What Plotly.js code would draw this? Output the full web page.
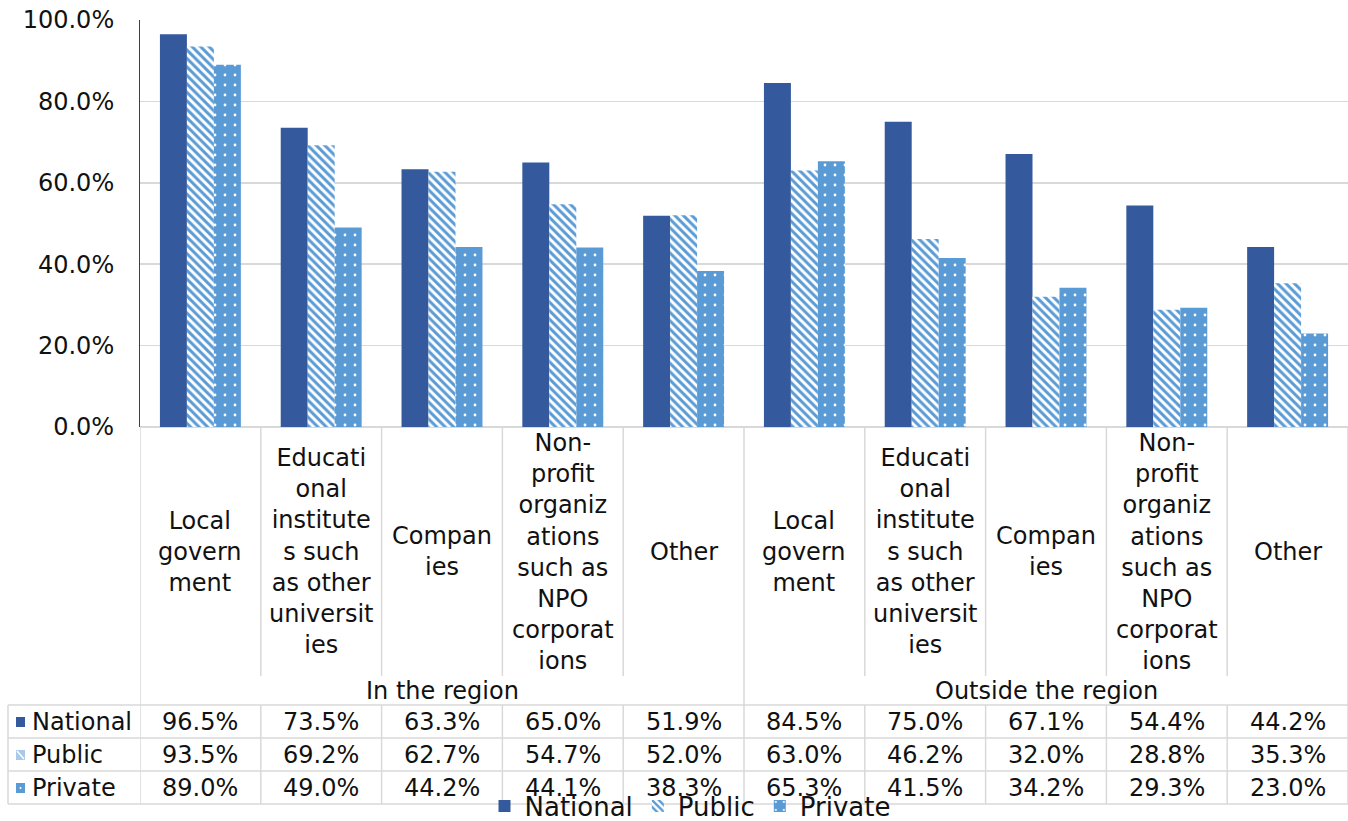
<!DOCTYPE html>
<html>
<head>
<meta charset="utf-8">
<script src="https://cdn.plot.ly/plotly-3.0.1.min.js"></script>
<style>html,body{margin:0;padding:0;background:#fff;}#chart{width:1348px;height:821px;}</style>
</head>
<body>
<div id="chart"></div>
<script>
// ---- data ----
const categories = [
  "Local<br>govern<br>ment",
  "Educati<br>onal<br>institute<br>s such<br>as other<br>universit<br>ies",
  "Compan<br>ies",
  "Non-<br>profit<br>organiz<br>ations<br>such as<br>NPO<br>corporat<br>ions",
  "Other"
];
const groups = ["In the region", "Outside the region"];
const seriesNames = ["National", "Public", "Private"];
const national = [96.5, 73.5, 63.3, 65.0, 51.9, 84.5, 75.0, 67.1, 54.4, 44.2];
const publicV  = [93.5, 69.2, 62.7, 54.7, 52.0, 63.0, 46.2, 32.0, 28.8, 35.3];
const privateV = [89.0, 49.0, 44.2, 44.1, 38.3, 65.3, 41.5, 34.2, 29.3, 23.0];

// ---- layout helpers ----
const W = 1348, H = 821, ML = 140, MR = 0, MT = 20, PLOT_BOTTOM = 427;
const MB = H - PLOT_BOTTOM;
const plotH = PLOT_BOTTOM - MT, plotW = W - ML - MR;
const py = p => (PLOT_BOTTOM - p) / plotH;   // pixel y -> paper
const px = p => (p - ML) / plotW;            // pixel x -> paper

const FONT = "DejaVu Sans, Arial, sans-serif";
const TXT = "#111";
const GRID = "#D9D9D9";
const C_NAT = "#345A9D", C_LB = "#5B9BD5";

const nCols = groups.length * categories.length;
const xIdx = [];
for (let i = 0; i < nCols; i++) xIdx.push(i);

const traces = [
  {type: "bar", name: seriesNames[0], x: xIdx, y: national.map(v => v / 100),
   marker: {color: C_NAT, line: {width: 0}}},
  {type: "bar", name: seriesNames[1], x: xIdx, y: publicV.map(v => v / 100),
   marker: {color: C_LB, line: {width: 0},
            pattern: {shape: "\\", fgcolor: C_LB, bgcolor: "#ffffff", size: 6, solidity: 0.5, fillmode: "replace"}}},
  {type: "bar", name: seriesNames[2], x: xIdx, y: privateV.map(v => v / 100),
   marker: {color: C_LB, line: {width: 0},
            pattern: {shape: ".", fgcolor: "#ffffff", bgcolor: C_LB, size: 10, solidity: 0.06, fillmode: "replace"}}}
];

// ---- table annotations & shapes ----
const annotations = [];
const shapes = [];
const rowCenters = [722, 755, 788];
const rowLines = [705, 738, 771, 804];
const allSeries = [national, publicV, privateV];

for (let i = 0; i < nCols; i++) {
  annotations.push({text: categories[i % categories.length], x: i, xref: "x", y: py(551.5), yref: "paper",
    showarrow: false, xanchor: "center", yanchor: "middle", align: "center",
    font: {family: FONT, size: 24, color: TXT}});
}
groups.forEach((g, gi) => {
  const center = gi * categories.length + (categories.length - 1) / 2;
  annotations.push({text: g, x: center, xref: "x", y: py(691), yref: "paper", showarrow: false,
    xanchor: "center", yanchor: "middle", font: {family: FONT, size: 24, color: TXT}});
});
allSeries.forEach((arr, r) => {
  arr.forEach((v, i) => {
    annotations.push({text: v.toFixed(1) + "%", x: i, xref: "x", y: py(rowCenters[r]), yref: "paper",
      showarrow: false, xanchor: "center", yanchor: "middle", font: {family: FONT, size: 24, color: TXT}});
  });
  annotations.push({text: seriesNames[r], x: px(30), xref: "paper", y: py(rowCenters[r]), yref: "paper",
    showarrow: false, xanchor: "left", yanchor: "middle", font: {family: FONT, size: 24, color: TXT}});
});

// keys in table
const keyFill = [C_NAT, "#A9C9EA", C_LB];
rowCenters.forEach((c, r) => {
  shapes.push({type: "rect", xref: "paper", yref: "paper", x0: px(16), x1: px(25), y0: py(c + 5), y1: py(c - 5),
    fillcolor: keyFill[r], line: {width: 0}});
});
shapes.push({type: "line", xref: "paper", yref: "paper", x0: px(17), x1: px(24), y0: py(755 - 4), y1: py(755 + 4),
  line: {color: "#ffffff", width: 1.5}});
shapes.push({type: "circle", xref: "paper", yref: "paper", x0: px(19.5), x1: px(21.5), y0: py(789), y1: py(787),
  fillcolor: "#ffffff", line: {width: 0}});

// table grid lines
const line = (x0, x1, y0, y1, xref) => shapes.push({type: "line", xref: xref, yref: "paper",
  x0: x0, x1: x1, y0: y0, y1: y1, line: {color: GRID, width: 1.5}, layer: "below"});
rowLines.forEach(p => line(px(8), 1, py(p), py(p), "paper"));
line(px(8), px(8), py(rowLines[0]), py(rowLines[3]), "paper");
for (let i = 0; i <= nCols; i++) {
  const xb = i - 0.5;
  const isGroupEdge = (i % categories.length === 0);
  if (isGroupEdge) {
    line(xb, xb, 0, py(rowLines[3]), "x");
  } else {
    line(xb, xb, 0, py(676), "x");
    line(xb, xb, py(rowLines[0]), py(rowLines[3]), "x");
  }
}

const layout = {
  width: W, height: H,
  margin: {l: ML, r: MR, t: MT, b: MB, autoexpand: false},
  paper_bgcolor: "#ffffff", plot_bgcolor: "#ffffff",
  barmode: "group", bargap: 0.33, bargroupgap: 0,
  font: {family: FONT, size: 24, color: TXT},
  xaxis: {range: [-0.5, nCols - 0.5], showticklabels: false, showgrid: false, zeroline: false,
          showline: false, fixedrange: true, automargin: false},
  yaxis: {range: [0, 1], dtick: 0.2, tickformat: ".1%", showgrid: true, gridcolor: GRID, gridwidth: 1.5,
          zeroline: true, zerolinecolor: GRID, zerolinewidth: 1.5,
          showline: true, linecolor: "#404040", linewidth: 1, ticks: "", ticklabelstandoff: 20,
          tickfont: {family: FONT, size: 24, color: TXT}, fixedrange: true, automargin: false},
  showlegend: true,
  legend: {orientation: "h", x: px(690), xanchor: "center", y: py(806), yanchor: "middle",
           bgcolor: "rgba(0,0,0,0)", font: {family: FONT, size: 26, color: TXT}, traceorder: "normal",
           itemwidth: 30},
  annotations: annotations,
  shapes: shapes
};

Plotly.newPlot("chart", traces, layout, {displayModeBar: false, staticPlot: true});
</script>
</body>
</html>
